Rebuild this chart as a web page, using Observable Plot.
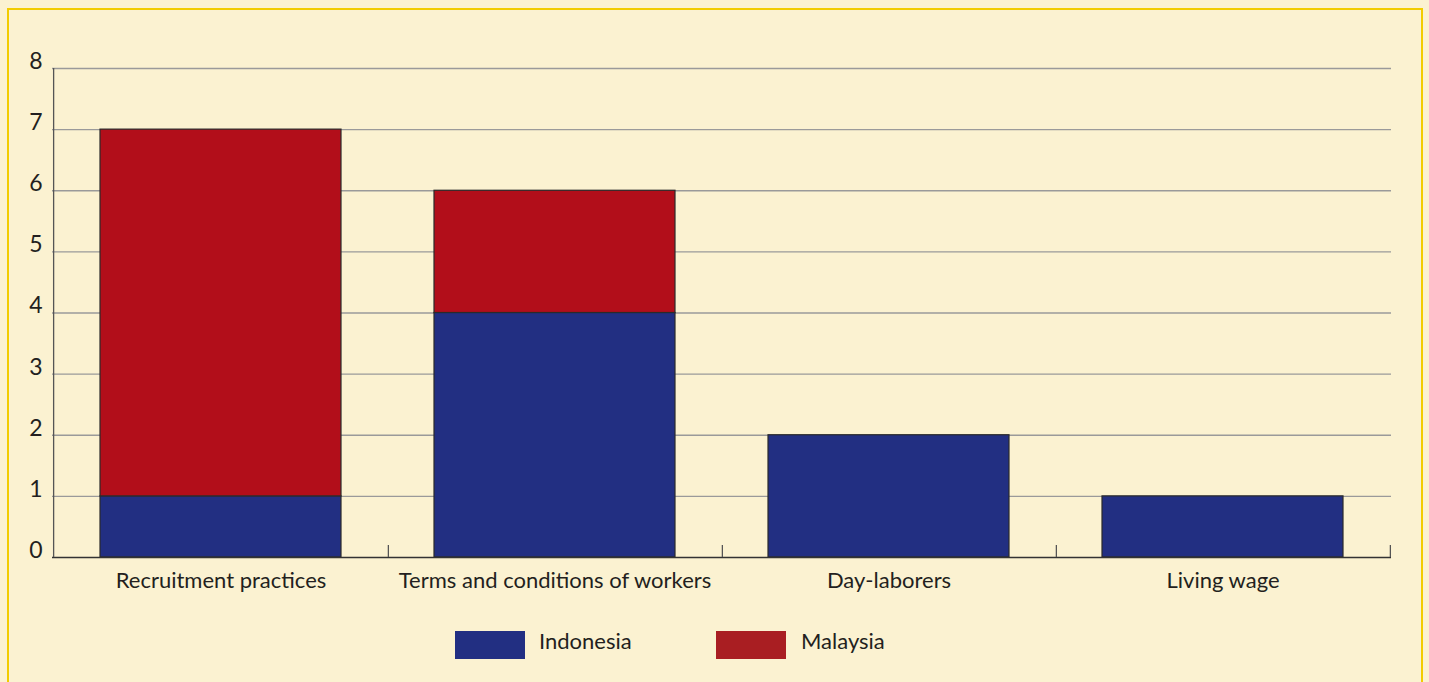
<!DOCTYPE html>
<html>
<head>
<meta charset="utf-8">
<script src="https://cdn.jsdelivr.net/npm/d3@7"></script>
<script src="https://cdn.jsdelivr.net/npm/@observablehq/plot@0.6"></script>
<style>
  html, body { margin: 0; padding: 0; background: #FBF2D1; width: 1429px; height: 682px; overflow: hidden; }
  #frame { position: absolute; left: 7px; top: 8px; width: 1416px; height: 700px; border: 2.5px solid #F2CC00; box-sizing: border-box; }
  #chart { position: absolute; left: 0; top: 0; }
  #legend { position: absolute; top: 631px; left: 0; font-family: Lato, "Open Sans", sans-serif; font-size: 22px; color: #231f20; }
  .sw { position: absolute; width: 70px; height: 28px; }
  .lb { position: absolute; top: -5px; line-height: 29px; white-space: nowrap; }
</style>
</head>
<body>
<div id="frame"></div>
<div id="chart"></div>
<div id="legend"></div>
<script>
const categories = ["Recruitment practices", "Terms and conditions of workers", "Day-laborers", "Living wage"];
const seriesNames = ["Indonesia", "Malaysia"];
const indonesia = [1, 4, 2, 1];
const malaysia = [6, 2, 0, 0];
const yTicks = [0, 1, 2, 3, 4, 5, 6, 7, 8];
const barColors = ["#222F82", "#B20E1A"];
const legendColors = ["#222F82", "#A91E22"];

const data = [];
categories.forEach((c, i) => {
  data.push({category: c, series: "Indonesia", value: indonesia[i]});
  data.push({category: c, series: "Malaysia", value: malaysia[i]});
});

const W = 1429, H = 600, mL = 52, mR = 38, mT = 68, mB = 43;
const step = (W - mL - mR) / categories.length;
const tickLen = 12 / ((H - mT - mB) / 8);

const chart = Plot.plot({
  width: W, height: H,
  marginLeft: mL, marginRight: mR, marginTop: mT, marginBottom: mB,
  style: {background: "transparent", fontFamily: "Lato, 'Open Sans', sans-serif", color: "#231f20"},
  x: {domain: categories, paddingInner: 0.278, paddingOuter: 0.139, label: null},
  y: {domain: [0, 8], ticks: yTicks, label: null},
  color: {domain: seriesNames, range: barColors},
  marks: [
    Plot.ruleY(yTicks.filter(d => d > 0), {stroke: "#9a9a9a", strokeWidth: 1.3}),
    Plot.barY(data, Plot.stackY({x: "category", y: "value", fill: "series", stroke: "#2a2a2a", strokeWidth: 1.2, filter: d => d.value > 0})),
    Plot.ruleY([0], {stroke: "#333", strokeWidth: 1.5}),
    Plot.ruleX([categories[0]], {dx: -step / 2, y1: 0, y2: 8, stroke: "#555", strokeWidth: 1.3}),
    Plot.ruleX(categories, {dx: step / 2, y1: 0, y2: tickLen, stroke: "#555", strokeWidth: 1.3}),
    Plot.axisY(yTicks, {tickSize: 0, tickPadding: 10, fontSize: 23, dy: -7, textAnchor: "end", fill: "#231f20", tickFormat: d3.format("d")}),
    Plot.axisX({tickSize: 0, tickPadding: 15, fontSize: 22, fill: "#231f20"})
  ]
});
document.getElementById("chart").appendChild(chart);

const legend = document.getElementById("legend");
const swX = [455, 716], lbX = [539, 801];
seriesNames.forEach((s, i) => {
  const sw = document.createElement("div");
  sw.className = "sw"; sw.style.left = swX[i] + "px"; sw.style.background = legendColors[i];
  legend.appendChild(sw);
  const lb = document.createElement("div");
  lb.className = "lb"; lb.style.left = lbX[i] + "px"; lb.textContent = s;
  legend.appendChild(lb);
});
</script>
</body>
</html>
